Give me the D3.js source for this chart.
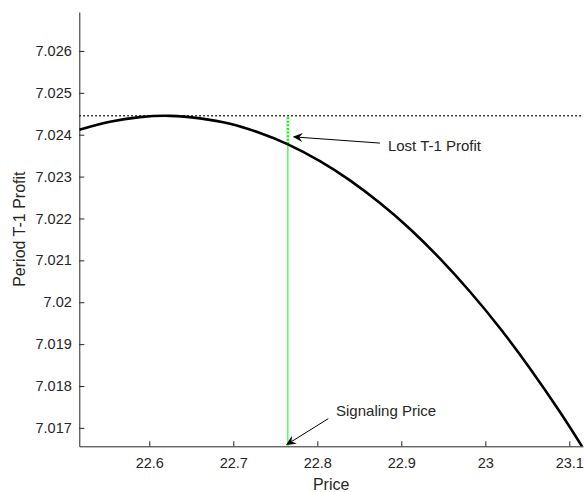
<!DOCTYPE html>
<html>
<head>
<meta charset="utf-8">
<script src="https://cdn.jsdelivr.net/npm/d3@7"></script>
<style>
  body { margin: 0; background: #fff; }
  text { font-family: "Liberation Sans", Arial, sans-serif; fill: #262626; }
</style>
</head>
<body>
<div id="chart"></div>
<script>
// values
const price = [22.5167, 22.5532, 22.5889, 22.6246, 22.6604, 22.6961, 22.7318, 22.7651, 22.8032,
               22.8389, 22.8746, 22.9104, 22.9461, 22.9818, 23.0175, 23.0532, 23.0889, 23.1151];
const profit = [7.02412, 7.02431, 7.02442, 7.02445, 7.02439, 7.02426, 7.02404, 7.02377, 7.02337,
                7.02291, 7.02237, 7.02175, 7.02104, 7.02025, 7.01938, 7.01842, 7.01738, 7.01656];
const peakProfit = 7.02445;
const signalPrice = 22.765;
const signalProfit = 7.02377;
const xTicks = [22.6, 22.7, 22.8, 22.9, 23.0, 23.1];
const yTicks = [7.017, 7.018, 7.019, 7.02, 7.021, 7.022, 7.023, 7.024, 7.025, 7.026];

const width = 584, height = 492;
const margin = {top: 12, right: 1, bottom: 45.7, left: 79.3};

const svg = d3.select("#chart").append("svg")
    .attr("width", width)
    .attr("height", height);

const x = d3.scaleLinear().domain([22.5167, 23.1163]).range([margin.left, width - margin.right]);
const y = d3.scaleLinear().domain([7.01656, 7.02693]).range([height - margin.bottom, margin.top]);

const fmt = d => String(+d.toFixed(4));

svg.append("defs").append("clipPath").attr("id", "clip")
  .append("rect")
    .attr("x", margin.left).attr("y", margin.top)
    .attr("width", width - margin.left - margin.right)
    .attr("height", height - margin.top - margin.bottom);

// axes (ticks pointing inward)
const xAxis = svg.append("g")
    .attr("transform", `translate(0,${height - margin.bottom})`)
    .call(d3.axisBottom(x).tickValues(xTicks).tickFormat(fmt).tickSizeInner(-5).tickSizeOuter(0).tickPadding(11.5));
const yAxis = svg.append("g")
    .attr("transform", `translate(${margin.left},0)`)
    .call(d3.axisLeft(y).tickValues(yTicks).tickFormat(fmt).tickSizeInner(-5).tickSizeOuter(0).tickPadding(7.5));

[xAxis, yAxis].forEach(g => {
  g.select(".domain").attr("stroke", "#262626").attr("stroke-width", 1);
  g.selectAll(".tick line").attr("stroke", "#262626");
  g.selectAll(".tick text").attr("fill", "#262626").style("font-size", "14.5px")
    .style("font-family", '"Liberation Sans", Arial, sans-serif');
});

// axis labels
svg.append("text")
    .attr("x", (margin.left + width - margin.right) / 2)
    .attr("y", 490)
    .attr("text-anchor", "middle")
    .style("font-size", "16px")
    .text("Price");

svg.append("text")
    .attr("transform", `translate(25,${(margin.top + height - margin.bottom) / 2}) rotate(-90)`)
    .attr("text-anchor", "middle")
    .style("font-size", "16px")
    .text("Period T-1 Profit");

const plot = svg.append("g").attr("clip-path", "url(#clip)");

// peak profit reference line
plot.append("line")
    .attr("x1", x.range()[0]).attr("x2", x.range()[1])
    .attr("y1", y(peakProfit)).attr("y2", y(peakProfit))
    .attr("stroke", "#000")
    .attr("stroke-width", 1.5)
    .attr("stroke-dasharray", "1.5,2.5");

// signaling price line
plot.append("line")
    .attr("x1", x(signalPrice)).attr("x2", x(signalPrice))
    .attr("y1", y.range()[0]).attr("y2", y(signalProfit))
    .attr("stroke", "#00ff00")
    .attr("stroke-width", 1);

// lost profit segment
plot.append("line")
    .attr("x1", x(signalPrice)).attr("x2", x(signalPrice))
    .attr("y1", y(signalProfit)).attr("y2", y(peakProfit))
    .attr("stroke", "#00ff00")
    .attr("stroke-width", 2.6)
    .attr("stroke-dasharray", "2,1.6");

// profit curve
const line = d3.line()
    .x((d, i) => x(price[i]))
    .y(d => y(d))
    .curve(d3.curveNatural);

plot.append("path")
    .datum(profit)
    .attr("fill", "none")
    .attr("stroke", "#000")
    .attr("stroke-width", 2.6)
    .attr("d", line);

// annotations
const notes = [
  {label: "Lost T-1 Profit", tail: [22.8746, 7.02380], tip: [22.7707, 7.02395], text: [22.8841, 7.02361]},
  {label: "Signaling Price", tail: [22.8131, 7.01722], tip: [22.7627, 7.01659], text: [22.8223, 7.01729]}
];

notes.forEach(n => {
  const x0 = x(n.tail[0]), y0 = y(n.tail[1]);
  const x1 = x(n.tip[0]), y1 = y(n.tip[1]);
  const ang = Math.atan2(y1 - y0, x1 - x0);
  const L = 10, W = 4.6, N = 6.5;
  const pt = (back, side) => [
    x1 - back * Math.cos(ang) - side * Math.sin(ang),
    y1 - back * Math.sin(ang) + side * Math.cos(ang)
  ];
  const nb = pt(N, 0);
  svg.append("line")
      .attr("x1", x0).attr("y1", y0)
      .attr("x2", nb[0]).attr("y2", nb[1])
      .attr("stroke", "#000")
      .attr("stroke-width", 1);
  svg.append("path")
      .attr("d", "M" + [[x1, y1], pt(L, W), nb, pt(L, -W)].join("L") + "Z")
      .attr("fill", "#000");
  svg.append("text")
      .attr("x", x(n.text[0]))
      .attr("y", y(n.text[1]))
      .style("font-size", "15px")
      .attr("fill", "#000")
      .text(n.label);
});
</script>
</body>
</html>
